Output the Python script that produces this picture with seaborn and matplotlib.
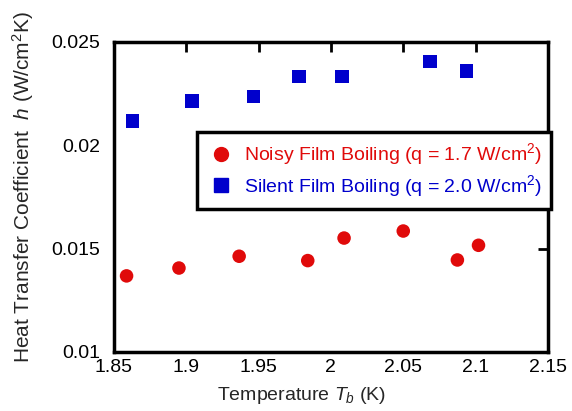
import matplotlib
matplotlib.use("Agg")
import matplotlib.pyplot as plt
import seaborn as sns
import pandas as pd
from matplotlib.lines import Line2D

noisy_T = [1.8588, 1.895, 1.9366, 1.984, 2.0091, 2.050, 2.0874, 2.102]
noisy_h = [0.01368, 0.01406, 0.01463, 0.01442, 0.01551, 0.01585, 0.01445, 0.01516]
silent_T = [1.8628, 1.9041, 1.9466, 1.978, 2.0075, 2.0686, 2.0937]
silent_h = [0.02116, 0.02214, 0.02235, 0.02332, 0.02332, 0.02404, 0.02359]
labels = ["Noisy Film Boiling (q = 1.7 W/cm$^2$)", "Silent Film Boiling (q = 2.0 W/cm$^2$)"]
xticks = [1.85, 1.9, 1.95, 2, 2.05, 2.1, 2.15]
xticklabels = ["1.85", "1.9", "1.95", "2", "2.05", "2.1", "2.15"]
yticks = [0.01, 0.015, 0.02, 0.025]
yticklabels = ["0.01", "0.015", "0.02", "0.025"]

sns.set_theme(style="white")
plt.rcParams["font.family"] = ["Liberation Sans", "DejaVu Sans"]
plt.rcParams["mathtext.fontset"] = "custom"
plt.rcParams["mathtext.rm"] = "Liberation Sans"
plt.rcParams["mathtext.it"] = "Liberation Sans:italic"

red = "#e00a0a"
blue = "#0000cc"
fs = 14

df = pd.DataFrame({
    "T": noisy_T + silent_T,
    "h": noisy_h + silent_h,
    "series": [labels[0]] * len(noisy_T) + [labels[1]] * len(silent_T),
})

fig = plt.figure(figsize=(5.72, 4.11), dpi=100)
ax = fig.add_axes([0.199, 0.1436, 0.759, 0.7546])
sns.scatterplot(data=df, x="T", y="h", hue="series", style="series",
                palette={labels[0]: red, labels[1]: blue},
                markers={labels[0]: "o", labels[1]: "s"},
                s=95, linewidth=0, ax=ax, legend=False)

ax.set_xlim(1.85, 2.15)
ax.set_ylim(0.01, 0.025)
ax.set_xticks(xticks)
ax.set_xticklabels(xticklabels)
ax.set_yticks(yticks)
ax.set_yticklabels(yticklabels)
ax.tick_params(direction="in", length=7, width=2, top=True, right=True,
               labelsize=fs, colors="black", pad=5)
ax.tick_params(axis="y", pad=10)
ax.tick_params(axis="x", labeltop=False)
ax.tick_params(axis="y", labelright=False)
for sp in ax.spines.values():
    sp.set_linewidth(2.5)
    sp.set_color("black")

ax.set_xlabel("Temperature $T_b$ (K)", fontsize=fs)
ax.xaxis.set_label_coords(0.432, -0.108)
ax.set_ylabel("Heat Transfer Coefficient  $h$ (W/cm$^2$K)", fontsize=15)
ax.yaxis.set_label_coords(-0.18, 0.53)

handles = [
    Line2D([], [], marker="o", linestyle="none", color=red, markersize=10),
    Line2D([], [], marker="s", linestyle="none", color=blue, markersize=10),
]
leg = ax.legend(handles, labels, loc="upper right", bbox_to_anchor=(1.008, 0.71),
                frameon=True, fancybox=False, fontsize=fs, framealpha=1,
                labelcolor=[red, blue], handletextpad=0.5, borderpad=0.5,
                handlelength=1.4, labelspacing=0.3, borderaxespad=0)
leg.get_frame().set_edgecolor("black")
leg.get_frame().set_linewidth(2.5)

fig.savefig("out.png", dpi=100)
